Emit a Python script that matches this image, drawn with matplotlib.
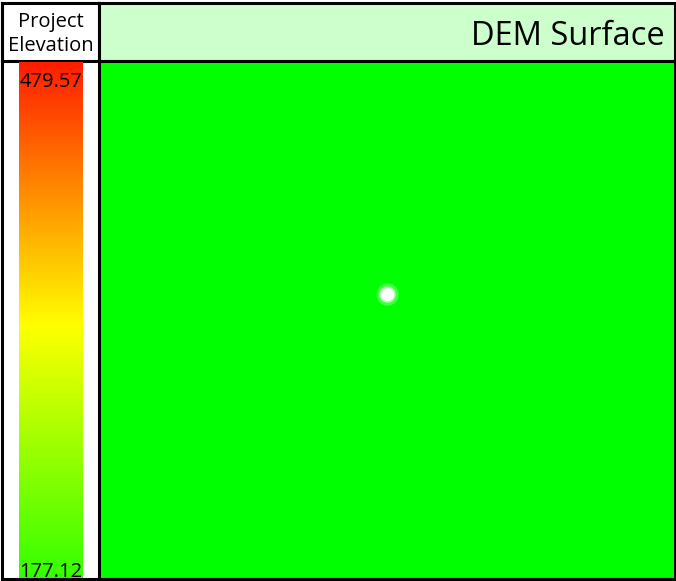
import numpy as np
import matplotlib
matplotlib.use('Agg')
import matplotlib.pyplot as plt
from matplotlib.colors import LinearSegmentedColormap
from matplotlib.patches import Rectangle

# chart values
elev_min = 177.12
elev_max = 479.57
legend_title = ['Project', 'Elevation']
chart_title = 'DEM Surface'
surface_color = '#00ff00'
point_x = [0.5]   # sample point, fraction of surface width
point_y = [0.55]  # fraction of surface height from bottom

W, H = 676, 581
fig = plt.figure(figsize=(W / 100, H / 100), dpi=100)
plt.rcParams['font.family'] = ['Open Sans', 'DejaVu Sans']


def px_axes(x0, y0, x1, y1):
    # axes placed by pixel box (top-left origin)
    ax = fig.add_axes([x0 / W, 1 - y1 / H, (x1 - x0) / W, (y1 - y0) / H])
    ax.set_xticks([])
    ax.set_yticks([])
    return ax


# whole-frame background
bg = px_axes(0, 0, W, H)
bg.set_xlim(0, W)
bg.set_ylim(H, 0)
bg.axis('off')
bg.add_patch(Rectangle((2, 3), 97, 576, facecolor='white', edgecolor='none'))

# legend header
hdr = px_axes(2, 3, 99, 61)
hdr.set_facecolor('white')

# colour ramp
cmap = LinearSegmentedColormap.from_list(
    'elev', [(0.0, '#33ff00'), (0.49, '#ffff00'), (1.0, '#ff1c00')])
cb = px_axes(19, 62, 83, 579)
ramp = np.linspace(elev_min, elev_max, 256).reshape(-1, 1)
cb.imshow(ramp, cmap=cmap, aspect='auto', origin='lower',
          extent=[0, 1, elev_min, elev_max], vmin=elev_min, vmax=elev_max)
for s in cb.spines.values():
    s.set_visible(False)

# title header
th = px_axes(99, 3, 675, 61)
th.set_facecolor('#ccffcc')

# surface
surf = px_axes(99, 61, 675, 579)
surf.set_facecolor(surface_color)
surf.set_xlim(0, 1)
surf.set_ylim(0, 1)
surf.scatter(point_x, point_y, s=260, color='white', alpha=0.25, linewidths=0)
surf.scatter(point_x, point_y, s=140, color='white', alpha=0.6, linewidths=0)
surf.scatter(point_x, point_y, s=85, color='white', linewidths=0)

# frame lines
lw = 2.2
for ax in (hdr, th, surf):
    for s in ax.spines.values():
        s.set_linewidth(lw)
        s.set_color('black')

# overlay for texts and outer frame
top = px_axes(0, 0, W, H)
top.set_xlim(0, W)
top.set_ylim(H, 0)
top.axis('off')
top.plot([2, 2], [3, 579], color='black', lw=lw)
top.plot([2, 675], [579, 579], color='black', lw=lw)
top.text(51, 27, legend_title[0], ha='center', va='baseline', fontsize=14.5)
top.text(51, 51, legend_title[1], ha='center', va='baseline', fontsize=14.5)
top.text(51, 87, f'{elev_max:.2f}', ha='center', va='baseline', fontsize=14.5)
top.text(51, 577, f'{elev_min:.2f}', ha='center', va='baseline', fontsize=14.5)
top.text(665, 45, chart_title, ha='right', va='baseline', fontsize=23.5)

fig.savefig('out.png', dpi=100)
